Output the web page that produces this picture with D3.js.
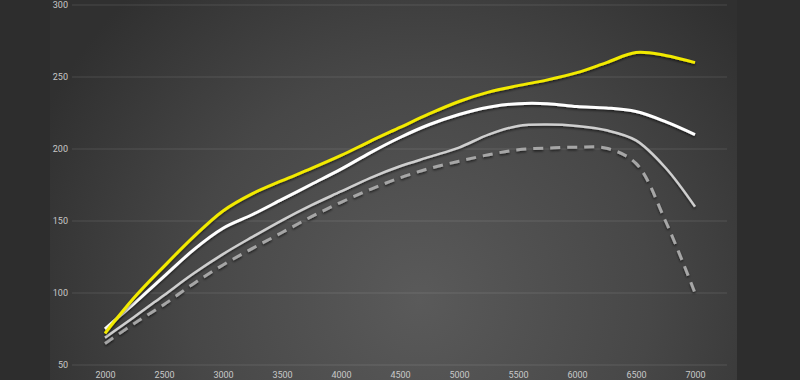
<!DOCTYPE html>
<html><head><meta charset="utf-8">
<script src="https://cdnjs.cloudflare.com/ajax/libs/d3/7.8.5/d3.min.js"></script>
<style>html,body{margin:0;padding:0;background:#2d2d2d;}svg{display:block;}</style>
</head><body><svg id="c" width="800" height="380"></svg>
<script>
const rpm = [2000,2250,2500,2750,3000,3250,3500,3750,4000,4250,4500,4750,5000,5250,5500,5750,6000,6250,6500,6750,7000];
const yellowSeries = [72,97,118.5,139,157,169,178,186.5,195.5,205.5,215,224.5,233,239.5,244,248,253,260,267,265,260];
const whiteSeries = [75,93,111.5,130,145,154.5,165,175.5,186,197.5,208,217,224,229,231.5,231.5,229.5,228.5,226,219,210];
const graySeries = [69,83.5,98.5,113.5,127,139,150.5,161,170.5,180,188,194.5,201,210,216,217,216,213,206,187,160];
const dashedSeries = [65,79,92,106.5,119.5,131,142,153,163,172,180,186.5,191.5,196,199.5,200.7,201.2,200.5,190,150,100];
const xTicks = [2000,2500,3000,3500,4000,4500,5000,5500,6000,6500,7000];
const yTicks = [50,100,150,200,250,300];

const svg = d3.select('#c');
const defs = svg.append('defs');
const rg = defs.append('radialGradient').attr('id','bg').attr('gradientUnits','userSpaceOnUse')
  .attr('cx',420).attr('cy',300).attr('r',420);
rg.append('stop').attr('offset','0%').attr('stop-color','#5a5a5a');
rg.append('stop').attr('offset','55%').attr('stop-color','#474747');
rg.append('stop').attr('offset','100%').attr('stop-color','#303030');
const f = defs.append('filter').attr('id','sh').attr('x','-10%').attr('y','-10%').attr('width','120%').attr('height','130%');
f.append('feDropShadow').attr('dx',0).attr('dy',1.5).attr('stdDeviation',1.2).attr('flood-color','#000').attr('flood-opacity',0.6);

svg.append('rect').attr('x',0).attr('y',0).attr('width',800).attr('height',380).attr('fill','#2d2d2d');
svg.append('rect').attr('x',50).attr('y',0).attr('width',687).attr('height',380).attr('fill','url(#bg)');

const x = d3.scaleLinear().domain([2000,7000]).range([105,695]);
const y = d3.scaleLinear().domain([50,300]).range([365,5]);

svg.append('g').selectAll('line').data(yTicks).join('line')
  .attr('x1',72).attr('x2',727).attr('y1',d=>y(d)).attr('y2',d=>y(d))
  .attr('stroke','rgba(255,255,255,0.12)').attr('stroke-width',1);

const yAxis = d3.axisLeft(y).tickValues(yTicks).tickSize(0).tickPadding(0);
const gy = svg.append('g').attr('transform','translate(68,0)').call(yAxis);
gy.select('.domain').remove();
gy.selectAll('text').attr('fill','#c8c8c8').style('font-family','Roboto, sans-serif').style('font-size','9px');

const xAxis = d3.axisBottom(x).tickValues(xTicks).tickSize(0).tickPadding(0).tickFormat(d3.format('d'));
const gx = svg.append('g').attr('transform','translate(0,372)').call(xAxis);
gx.select('.domain').remove();
gx.selectAll('text').attr('fill','#c8c8c8').attr('dy','0.7em').style('font-family','Roboto, sans-serif').style('font-size','9px');

const line = d3.line().x((d,i)=>x(rpm[i])).y(d=>y(d)).curve(d3.curveCatmullRom.alpha(0.5));
const series = [
  {v: dashedSeries, c:'#a6a6a6', w:3, dash:'10,7'},
  {v: graySeries, c:'#cfcfcf', w:2.5},
  {v: whiteSeries, c:'#ffffff', w:3},
  {v: yellowSeries, c:'#f2ea00', w:3}
];
series.forEach(s=>{
  svg.append('path').attr('d',line(s.v)).attr('fill','none')
    .attr('stroke',s.c).attr('stroke-width',s.w)
    .attr('stroke-dasharray',s.dash||null).attr('filter','url(#sh)');
});
</script></body></html>
